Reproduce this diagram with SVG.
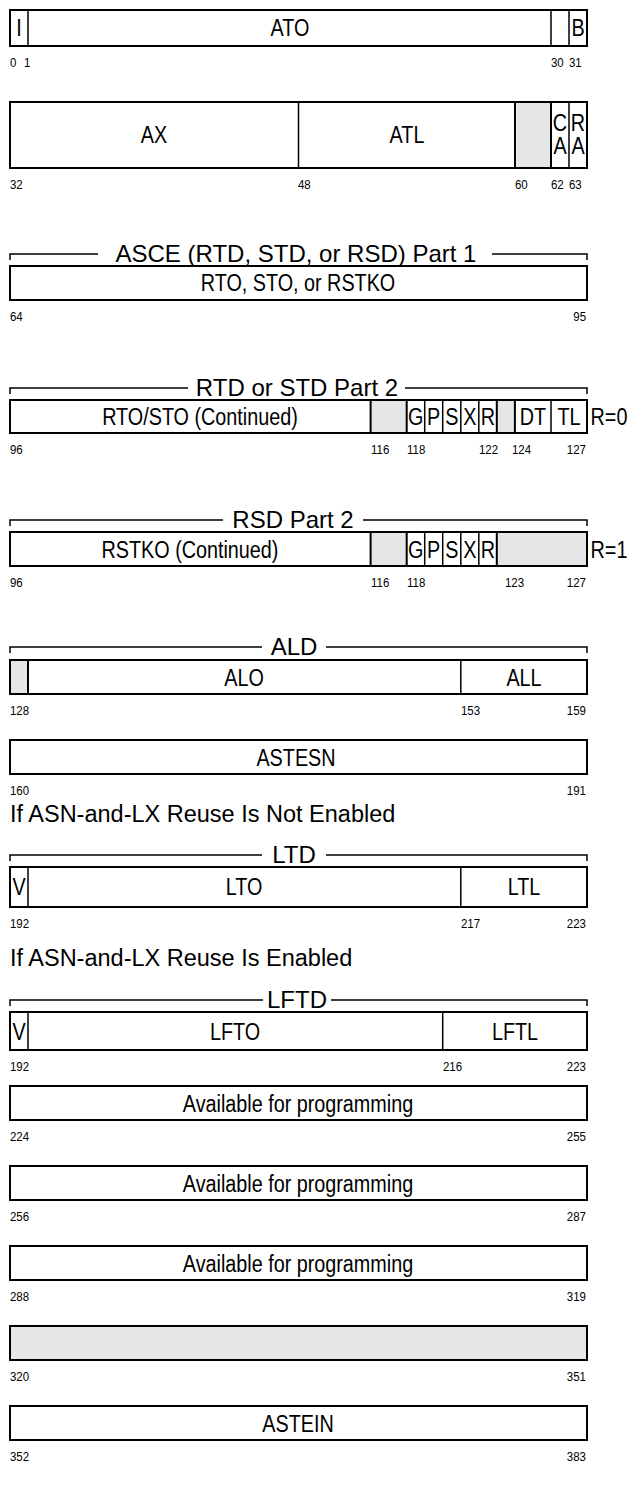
<svg xmlns="http://www.w3.org/2000/svg" width="632" height="1494" viewBox="0 0 632 1494">
<style>
.bx{fill:#fff;stroke:#000;stroke-width:2}
.gr{fill:#e6e6e6;stroke:#000;stroke-width:2}
.dv{stroke:#000;stroke-width:1.5}
.f{font-family:"Liberation Sans",Arial,sans-serif;font-size:23px;fill:#000;text-anchor:middle;transform-box:fill-box;transform-origin:50% 50%;transform:scaleX(.86)}
.n{font-family:"Liberation Sans",Arial,sans-serif;font-size:13.5px;fill:#000;transform-box:fill-box;transform-origin:0 50%;transform:scaleX(.85)}
.ne{text-anchor:end;transform-origin:100% 50%}
.t{font-family:"Liberation Sans",Arial,sans-serif;font-size:24px;fill:#000;text-anchor:middle}
.c{font-family:"Liberation Sans",Arial,sans-serif;font-size:23.5px;fill:#000}
.br{fill:none;stroke:#000;stroke-width:1.5}
</style>
<rect x="0" y="0" width="632" height="1494" fill="#fff"/>

<g id="word0">
<rect class="bx" x="10" y="10" width="577" height="36"/>
<line class="dv" x1="28" y1="10" x2="28" y2="46"/>
<line class="dv" x1="551" y1="10" x2="551" y2="46"/>
<line class="dv" x1="569" y1="10" x2="569" y2="46"/>
<text class="f" x="19" y="36">I</text>
<text class="f" x="290" y="36">ATO</text>
<text class="f" x="578" y="36">B</text>
<text class="n" x="10" y="67">0</text>
<text class="n" x="24" y="67">1</text>
<text class="n" x="551" y="67">30</text>
<text class="n" x="569" y="67">31</text>
</g>

<g id="word1">
<rect class="bx" x="10" y="102" width="577" height="66"/>
<rect class="gr" x="515" y="102" width="36" height="66"/>
<line class="dv" x1="298.5" y1="102" x2="298.5" y2="168"/>
<line class="dv" x1="569" y1="102" x2="569" y2="168"/>
<text class="f" x="154" y="143">AX</text>
<text class="f" x="407" y="143">ATL</text>
<text class="f" x="560" y="131">C</text>
<text class="f" x="560" y="154">A</text>
<text class="f" x="578" y="131">R</text>
<text class="f" x="578" y="154">A</text>
<text class="n" x="10" y="189">32</text>
<text class="n" x="298" y="189">48</text>
<text class="n" x="515" y="189">60</text>
<text class="n" x="551" y="189">62</text>
<text class="n" x="569" y="189">63</text>
</g>

<g id="asce-part1">
<path class="br" d="M10,260 V254 H98 M492,254 H587 V260"/>
<text class="t" x="296" y="262">ASCE (RTD, STD, or RSD) Part 1</text>
<rect class="bx" x="10" y="266" width="577" height="34"/>
<text class="f" x="298" y="291">RTO, STO, or RSTKO</text>
<text class="n" x="10" y="321">64</text>
<text class="n ne" x="586" y="321">95</text>
</g>

<g id="rtd-std-part2">
<path class="br" d="M10,394 V388 H188 M405,388 H587 V394"/>
<text class="t" x="297" y="396">RTD or STD Part 2</text>
<rect class="bx" x="10" y="400" width="577" height="33"/>
<rect class="gr" x="370.6" y="400" width="36.1" height="33"/>
<rect class="gr" x="496.8" y="400" width="18.1" height="33"/>
<line class="dv" x1="424.7" y1="400" x2="424.7" y2="433"/>
<line class="dv" x1="442.7" y1="400" x2="442.7" y2="433"/>
<line class="dv" x1="460.8" y1="400" x2="460.8" y2="433"/>
<line class="dv" x1="478.8" y1="400" x2="478.8" y2="433"/>
<line class="dv" x1="551" y1="400" x2="551" y2="433"/>
<text class="f" x="200" y="425">RTO/STO (Continued)</text>
<text class="f" x="415.7" y="425">G</text>
<text class="f" x="433.7" y="425">P</text>
<text class="f" x="451.8" y="425">S</text>
<text class="f" x="469.8" y="425">X</text>
<text class="f" x="487.8" y="425">R</text>
<text class="f" x="533" y="425">DT</text>
<text class="f" x="569" y="425">TL</text>
<text class="f" x="609" y="425">R=0</text>
<text class="n" x="10" y="454">96</text>
<text class="n" x="371" y="454">116</text>
<text class="n" x="407" y="454">118</text>
<text class="n" x="479" y="454">122</text>
<text class="n" x="512" y="454">124</text>
<text class="n ne" x="586" y="454">127</text>
</g>

<g id="rsd-part2">
<path class="br" d="M10,526 V520 H223 M363,520 H587 V526"/>
<text class="t" x="293" y="528">RSD Part 2</text>
<rect class="bx" x="10" y="532" width="577" height="34"/>
<rect class="gr" x="370.6" y="532" width="36.1" height="34"/>
<rect class="gr" x="496.8" y="532" width="90.2" height="34"/>
<line class="dv" x1="424.7" y1="532" x2="424.7" y2="566"/>
<line class="dv" x1="442.7" y1="532" x2="442.7" y2="566"/>
<line class="dv" x1="460.8" y1="532" x2="460.8" y2="566"/>
<line class="dv" x1="478.8" y1="532" x2="478.8" y2="566"/>
<text class="f" x="190" y="558">RSTKO (Continued)</text>
<text class="f" x="415.7" y="558">G</text>
<text class="f" x="433.7" y="558">P</text>
<text class="f" x="451.8" y="558">S</text>
<text class="f" x="469.8" y="558">X</text>
<text class="f" x="487.8" y="558">R</text>
<text class="f" x="609" y="558">R=1</text>
<text class="n" x="10" y="587">96</text>
<text class="n" x="371" y="587">116</text>
<text class="n" x="407" y="587">118</text>
<text class="n" x="505" y="587">123</text>
<text class="n ne" x="586" y="587">127</text>
</g>

<g id="ald">
<path class="br" d="M10,653 V647 H262 M326,647 H587 V653"/>
<text class="t" x="294" y="655">ALD</text>
<rect class="bx" x="10" y="660" width="577" height="34"/>
<rect class="gr" x="10" y="660" width="18" height="34"/>
<line class="dv" x1="460.8" y1="660" x2="460.8" y2="694"/>
<text class="f" x="244" y="686">ALO</text>
<text class="f" x="524" y="686">ALL</text>
<text class="n" x="10" y="715">128</text>
<text class="n" x="461" y="715">153</text>
<text class="n ne" x="586" y="715">159</text>
</g>

<g id="astesn">
<rect class="bx" x="10" y="740" width="577" height="34"/>
<text class="f" x="296" y="766">ASTESN</text>
<text class="n" x="10" y="795">160</text>
<text class="n ne" x="586" y="795">191</text>
</g>

<text class="c" x="10" y="822">If ASN-and-LX Reuse Is Not Enabled</text>

<g id="ltd">
<path class="br" d="M10,861 V855 H262 M326,855 H587 V861"/>
<text class="t" x="294" y="863">LTD</text>
<rect class="bx" x="10" y="867" width="577" height="40"/>
<line class="dv" x1="28" y1="867" x2="28" y2="907"/>
<line class="dv" x1="460.8" y1="867" x2="460.8" y2="907"/>
<text class="f" x="19" y="895">V</text>
<text class="f" x="244" y="895">LTO</text>
<text class="f" x="524" y="895">LTL</text>
<text class="n" x="10" y="928">192</text>
<text class="n" x="461" y="928">217</text>
<text class="n ne" x="586" y="928">223</text>
</g>

<text class="c" x="10" y="966">If ASN-and-LX Reuse Is Enabled</text>

<g id="lftd">
<path class="br" d="M10,1006 V1000 H263 M331,1000 H587 V1006"/>
<text class="t" x="297" y="1008">LFTD</text>
<rect class="bx" x="10" y="1012" width="577" height="38"/>
<line class="dv" x1="28" y1="1012" x2="28" y2="1050"/>
<line class="dv" x1="442.7" y1="1012" x2="442.7" y2="1050"/>
<text class="f" x="19" y="1040">V</text>
<text class="f" x="235" y="1040">LFTO</text>
<text class="f" x="515" y="1040">LFTL</text>
<text class="n" x="10" y="1071">192</text>
<text class="n" x="443" y="1071">216</text>
<text class="n ne" x="586" y="1071">223</text>
</g>

<g id="prog224">
<rect class="bx" x="10" y="1086" width="577" height="34"/>
<text class="f" x="298" y="1112">Available for programming</text>
<text class="n" x="10" y="1141">224</text>
<text class="n ne" x="586" y="1141">255</text>
</g>

<g id="prog256">
<rect class="bx" x="10" y="1166" width="577" height="34"/>
<text class="f" x="298" y="1192">Available for programming</text>
<text class="n" x="10" y="1221">256</text>
<text class="n ne" x="586" y="1221">287</text>
</g>

<g id="prog288">
<rect class="bx" x="10" y="1246" width="577" height="34"/>
<text class="f" x="298" y="1272">Available for programming</text>
<text class="n" x="10" y="1301">288</text>
<text class="n ne" x="586" y="1301">319</text>
</g>

<g id="reserved320">
<rect class="gr" x="10" y="1326" width="577" height="34"/>
<text class="n" x="10" y="1381">320</text>
<text class="n ne" x="586" y="1381">351</text>
</g>

<g id="astein">
<rect class="bx" x="10" y="1406" width="577" height="34"/>
<text class="f" x="298" y="1432">ASTEIN</text>
<text class="n" x="10" y="1461">352</text>
<text class="n ne" x="586" y="1461">383</text>
</g>

<g id="connectors"></g>
</svg>
